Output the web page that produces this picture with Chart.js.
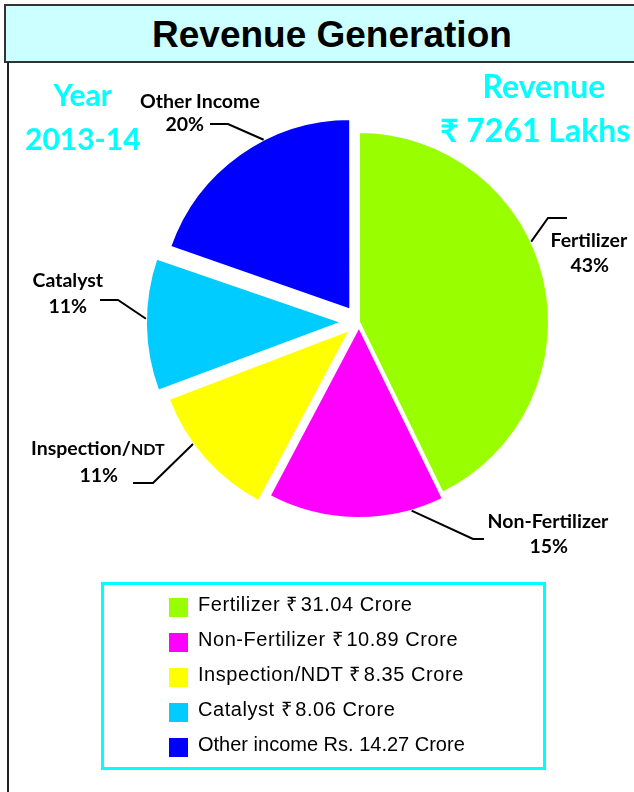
<!DOCTYPE html>
<html>
<head>
<meta charset="utf-8">
<script src="https://cdn.jsdelivr.net/npm/chart.js@4.4.1/dist/chart.umd.min.js"></script>
<style>
  html, body { margin: 0; padding: 0; background: #fff; }
  #wrap { position: relative; width: 634px; height: 792px; overflow: hidden; }
  #pie { position: absolute; left: 0; top: 0; }
  .titlebox { position: absolute; left: 4px; top: 4px; width: 700px; height: 55px;
              background: #ccffff; border: 2px solid #333; }
  .frame { position: absolute; left: 7px; top: 62px; width: 2px; height: 740px; background: #222; }
  .txt { position: absolute; white-space: nowrap; line-height: 1.2; }
  .legendbox { position: absolute; left: 101px; top: 582px; width: 439px; height: 182px;
               border: 3px solid #00ffff; }
  .sw { position: absolute; width: 19px; height: 19px; }
  .rs { margin-right: 3px; }
</style>
</head>
<body>
<div id="wrap">
  <canvas id="pie" width="634" height="792"></canvas>
  <div class="titlebox"></div>
  <div class="frame"></div>
  <div class="legendbox"></div>
</div>
<script>
// values in crore, 2013-14
const categories = ['Fertilizer', 'Non-Fertilizer', 'Inspection/NDT', 'Catalyst', 'Other Income'];
const revenueCrore = [31.04, 10.89, 8.35, 8.06, 14.27];
const legendNames = ['Fertilizer', 'Non-Fertilizer', 'Inspection/NDT', 'Catalyst', 'Other income'];
const currency = ['₹', '₹', '₹', '₹', 'Rs. '];
const colors = ['#99ff00', '#ff00ff', '#ffff00', '#00ccff', '#0000ff'];
const sliceOffsets = [0, 20, 48, 68, 60];

const total = revenueCrore.reduce((a, b) => a + b, 0);

// leader lines: angle on the slice edge (deg, canvas), elbow, end
const leaders = [
  { angle: -25, elbow: [548, 218], end: [567, 218] },
  { angle: 74, elbow: [473, 539], end: [484, 539] },
  { angle: 144, elbow: [153, 483], end: [133, 483] },
  { angle: 181, elbow: [118, 300], end: [100, 300] },
  { angle: -117, elbow: [228, 124], end: [210, 124] }
];
// label lines: name centre/baseline, percent centre/baseline
const labelPos = [
  { name: [589, 247], pct: [590, 272] },
  { name: [548, 528], pct: [549, 553] },
  { name: [98, 455], pct: [99, 482] },
  { name: [68, 287], pct: [68, 313] },
  { name: [200, 108], pct: [185, 131] }
];

const wrap = document.getElementById('wrap');

function place(html, font, color, cx, base) {
  const d = document.createElement('div');
  d.className = 'txt';
  d.style.font = font;
  d.style.color = color;
  d.innerHTML = html;
  const m = document.createElement('span');
  m.style.display = 'inline-block';
  m.style.width = '0';
  m.style.height = '0';
  d.appendChild(m);
  wrap.appendChild(d);
  d.style.top = (base - m.offsetTop) + 'px';
  d.style.left = (cx - d.offsetWidth / 2) + 'px';
  return d;
}

const leaderPlugin = {
  id: 'leaders',
  afterDatasetsDraw(chart) {
    const ctx = chart.ctx;
    const arcs = chart.getDatasetMeta(0).data;
    ctx.save();
    ctx.strokeStyle = '#000';
    ctx.lineWidth = 2;
    leaders.forEach((l, i) => {
      const arc = arcs[i];
      const off = (arc.options.offset || 0) / 4;
      const mid = (arc.startAngle + arc.endAngle) / 2;
      const fix = 1 - Math.sin(Math.min(Math.PI, arc.circumference));
      const cx = arc.x + Math.cos(mid) * off;
      const cy = arc.y + Math.sin(mid) * off;
      const r = arc.outerRadius + off * fix;
      const a = l.angle * Math.PI / 180;
      ctx.beginPath();
      ctx.moveTo(cx + Math.cos(a) * r, cy + Math.sin(a) * r);
      ctx.lineTo(l.elbow[0], l.elbow[1]);
      ctx.lineTo(l.end[0], l.end[1]);
      ctx.stroke();
    });
    ctx.restore();
  }
};

new Chart(document.getElementById('pie'), {
  type: 'pie',
  data: {
    labels: categories,
    datasets: [{
      data: revenueCrore,
      backgroundColor: colors,
      borderColor: '#fff',
      borderWidth: 2,
      offset: sliceOffsets
    }]
  },
  options: {
    responsive: false,
    animation: false,
    radius: 190,
    layout: { padding: { left: 84, right: 0, top: 0, bottom: 148 } },
    plugins: { legend: { display: false }, tooltip: { enabled: false } }
  },
  plugins: [leaderPlugin]
});

// title and side notes
place('Revenue Generation', 'bold 37px "Liberation Sans", Arial, sans-serif', '#000', 332, 47);
const cyan = '#00ffff';
place('Year', 'bold 30px Lato, sans-serif', cyan, 83, 106);
place('2013-14', 'bold 30px Lato, sans-serif', cyan, 83, 150);
place('Revenue', 'bold 32px Lato, sans-serif', cyan, 544, 98);
place('₹ ' + Math.round(total * 100) + ' Lakhs', 'bold 32px Lato, sans-serif', cyan, 535, 142);

// slice labels
const lblFont = 'bold 19.5px Lato, sans-serif';
categories.forEach((c, i) => {
  const html = c.replace('NDT', '<span style="font-size:16px">NDT</span>');
  const p = labelPos[i];
  place(html, lblFont, '#000', p.name[0], p.name[1]);
  place(Math.round(revenueCrore[i] / total * 100) + '%', lblFont, '#000', p.pct[0], p.pct[1]);
});

// legend
const legFont = '20px "Liberation Sans", Arial, sans-serif';
legendNames.forEach((n, i) => {
  const sw = document.createElement('div');
  sw.className = 'sw';
  sw.style.background = colors[i];
  sw.style.left = '169px';
  sw.style.top = (598 + i * 35) + 'px';
  wrap.appendChild(sw);
  const rupee = currency[i] === '₹';
  const cur = rupee ? '<span class="rs">₹</span>' : currency[i];
  const t = place(n + ' ' + cur + revenueCrore[i].toFixed(2) + ' Crore', legFont, '#000', 0, 611 + i * 35);
  if (rupee) t.style.letterSpacing = '0.55px';
  t.style.left = '198px';
});
</script>
</body>
</html>
